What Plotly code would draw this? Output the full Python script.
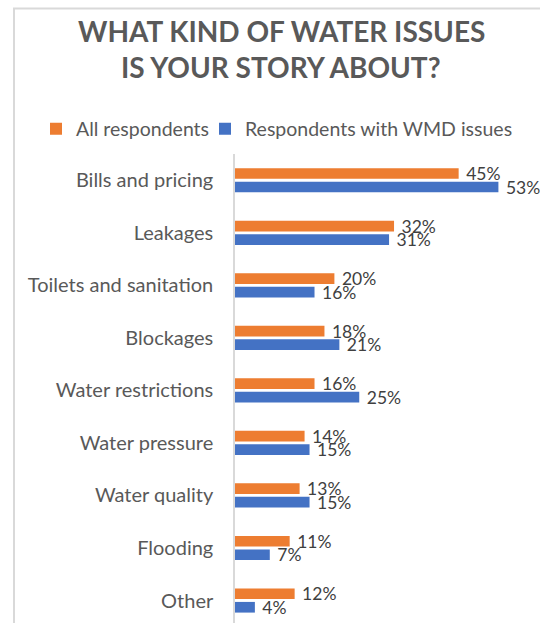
import plotly.graph_objects as go

categories = ["Bills and pricing", "Leakages", "Toilets and sanitation", "Blockages",
              "Water restrictions", "Water pressure", "Water quality", "Flooding", "Other"]
all_resp = [45, 32, 20, 18, 16, 14, 13, 11, 12]
wmd_resp = [53, 31, 16, 21, 25, 15, 15, 7, 4]
series_names = ["All respondents", "Respondents with WMD issues"]
colors = ["#ED7D31", "#4472C4"]
title_lines = ["WHAT KIND OF WATER ISSUES", "IS YOUR STORY ABOUT?"]

FONT = "Lato"
W, H = 540, 623
L, R, T, B = 235, 10, 154, 0
plot_w = W - L - R
plot_h = H - T - B
px_per_pct = 4.97
px_per_cat = 52.53

legend_names = ["legend", "legend2"]
legend_text_x = [76, 245]

fig = go.Figure()
for name, vals, col, lg in zip(series_names, [all_resp, wmd_resp], colors, legend_names):
    fig.add_trace(go.Bar(
        y=categories, x=vals, name=name, orientation="h", legend=lg,
        marker=dict(color=col, line=dict(width=0)),
        text=[f" {v}%" for v in vals], textposition="outside",
        constraintext="none",
        textfont=dict(family=FONT, size=17.5, color="#404040"),
        cliponaxis=False,
    ))

leg_common = dict(orientation="h", xref="container", yref="container",
                  xanchor="left", y=1 - 129 / H, yanchor="middle",
                  font=dict(family=FONT, size=19.5, color="#595959"),
                  itemwidth=30, borderwidth=0, bgcolor="rgba(0,0,0,0)")

fig.update_layout(
    width=W, height=H,
    margin=dict(l=L, r=R, t=T, b=B, pad=0),
    paper_bgcolor="white", plot_bgcolor="white",
    barmode="group", bargap=0.486, bargroupgap=0.21,
    font=dict(family=FONT, size=20, color="#595959"),
    showlegend=True,
    legend=dict(x=(legend_text_x[0] - 40) / W, **leg_common),
    legend2=dict(x=(legend_text_x[1] - 40) / W, **leg_common),
    xaxis=dict(range=[0, plot_w / px_per_pct], visible=False, showgrid=False),
    yaxis=dict(range=[-0.5 + plot_h / px_per_cat, -0.5], showline=True,
               linecolor="#d9d9d9", linewidth=1.5, ticks="", showgrid=False,
               ticklabelstandoff=16,
               tickfont=dict(family=FONT, size=20, color="#595959")),
)

for i, line in enumerate(title_lines):
    fig.add_annotation(text=f"<b>{line}</b>", xref="paper", yref="paper",
                       x=(281 - L) / plot_w, y=(H - B - (30.5 + 36 * i)) / plot_h,
                       xanchor="center", yanchor="middle", showarrow=False,
                       font=dict(family=FONT, size=28, color="#595959"))

# chart border
fig.add_shape(type="rect", xref="paper", yref="paper",
              x0=(14 - L) / plot_w, x1=1.2, y0=-0.2, y1=(H - 8.5) / plot_h,
              line=dict(color="#d9d9d9", width=2), layer="below")

fig.write_html("out.html")
